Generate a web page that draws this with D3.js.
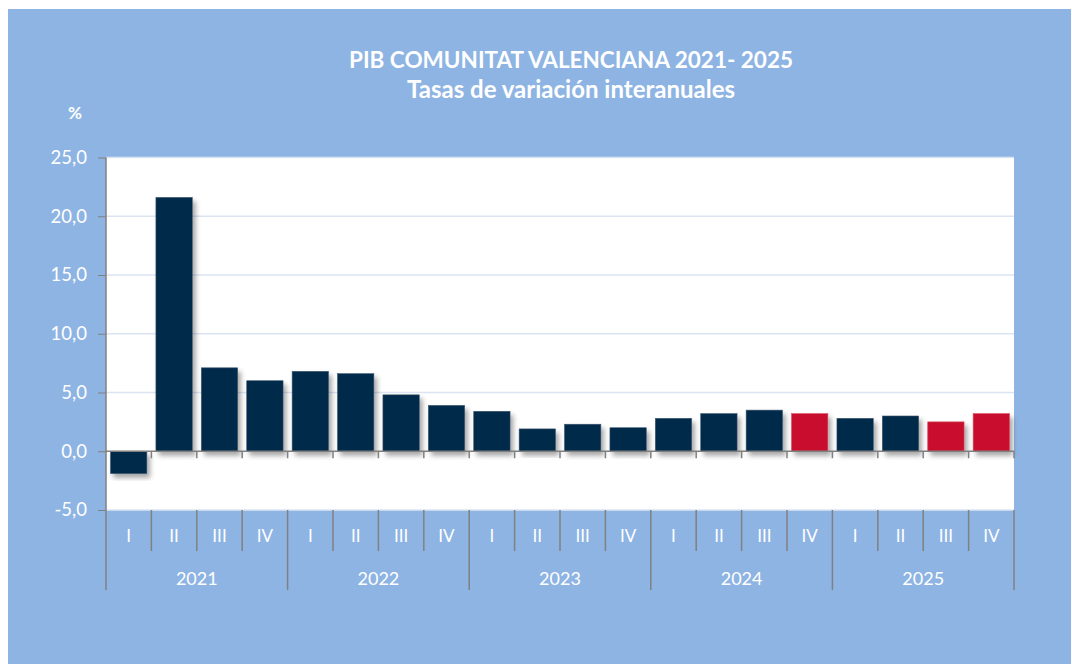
<!DOCTYPE html>
<html>
<head>
<meta charset="utf-8">
<script src="https://cdn.jsdelivr.net/npm/d3@7"></script>
<style>
  html, body { margin: 0; padding: 0; background: #fff; }
  svg { display: block; }
  text { font-family: Lato, 'Open Sans', sans-serif; fill: #fff; }
</style>
</head>
<body>
<div id="chart"></div>
<script>
// chart data
const years = ['2021', '2022', '2023', '2024', '2025'];
const quarters = ['I', 'II', 'III', 'IV'];
const values = [-1.9, 21.6, 7.1, 6.0, 6.8, 6.6, 4.8, 3.9, 3.4, 1.9, 2.3, 2.0, 2.8, 3.2, 3.5, 3.2, 2.8, 3.0, 2.5, 3.2];
const redKeys = ['2024-IV', '2025-III', '2025-IV'];
const yTicks = [-5, 0, 5, 10, 15, 20, 25];

const W = 1072, H = 664;
const margin = { top: 157.5, right: 58, bottom: 154, left: 106 };
const width = W - margin.left - margin.right;
const height = H - margin.top - margin.bottom;

const data = [];
years.forEach(y => quarters.forEach(q => data.push({ year: y, q, key: `${y}-${q}` })));
data.forEach((d, i) => { d.value = values[i]; });

const locale = d3.formatLocale({ decimal: ',', thousands: '.', grouping: [3], currency: ['', '€'], minus: '-' });
const fmt = locale.format('.1f');

const svg = d3.select('#chart').append('svg').attr('width', W).attr('height', H);

const defs = svg.append('defs');
const shadow = defs.append('filter').attr('id', 'shadow')
  .attr('x', '-20%').attr('y', '-20%').attr('width', '150%').attr('height', '150%');
shadow.append('feDropShadow')
  .attr('dx', 3).attr('dy', 4).attr('stdDeviation', 2.5)
  .attr('flood-color', '#000').attr('flood-opacity', 0.35);

// background
svg.append('rect').attr('x', 8).attr('y', 9).attr('width', W - 9).attr('height', H - 9).attr('fill', '#8eb4e3');

svg.append('text').attr('x', 571).attr('y', 68).attr('text-anchor', 'middle')
  .style('font-size', '22.5px').style('font-weight', 700)
  .text('PIB COMUNITAT VALENCIANA 2021- 2025');
svg.append('text').attr('x', 571).attr('y', 98).attr('text-anchor', 'middle')
  .style('font-size', '24px').style('font-weight', 700)
  .text('Tasas de variación interanuales');
svg.append('text').attr('x', 75).attr('y', 119).attr('text-anchor', 'middle')
  .style('font-size', '17px').style('font-weight', 700)
  .text('%');

const g = svg.append('g').attr('transform', `translate(${margin.left},${margin.top})`);

const x = d3.scaleBand().domain(data.map(d => d.key)).range([0, width]).paddingInner(0.2).paddingOuter(0.1);
const y = d3.scaleLinear().domain([-5, 25]).range([height, 0]);
const step = x.step();

g.append('rect').attr('width', width).attr('height', height).attr('fill', '#fff');

// grid
g.append('g').selectAll('line').data(yTicks.filter(t => t !== 0)).join('line')
  .attr('x1', 0).attr('x2', width)
  .attr('y1', d => y(d)).attr('y2', d => y(d))
  .attr('stroke', '#dbe5f1').attr('stroke-width', 1.5);

// y axis
const yAxis = g.append('g')
  .call(d3.axisLeft(y).tickValues(yTicks).tickSize(8).tickPadding(11).tickFormat(fmt));
yAxis.select('.domain').remove();
yAxis.selectAll('line').attr('stroke', '#808080');
yAxis.selectAll('text').style('font-size', '18.5px').attr('fill', '#fff');

// bars
g.append('g').selectAll('rect').data(data).join('rect')
  .attr('x', d => x(d.key))
  .attr('width', x.bandwidth())
  .attr('y', d => y(Math.max(0, d.value)))
  .attr('height', d => Math.abs(y(d.value) - y(0)))
  .attr('fill', d => redKeys.includes(d.key) ? '#c8102e' : '#002948')
  .attr('stroke', d => redKeys.includes(d.key) ? '#d84a5e' : '#3d5670')
  .attr('stroke-width', 0.6)
  .attr('filter', 'url(#shadow)');

// zero axis with ticks between bands
g.append('line').attr('x1', 0).attr('x2', width).attr('y1', y(0)).attr('y2', y(0))
  .attr('stroke', '#808080').attr('stroke-width', 1.5);
g.append('g').selectAll('line').data(d3.range(1, data.length + 1)).join('line')
  .attr('x1', i => i * step).attr('x2', i => i * step)
  .attr('y1', y(0)).attr('y2', y(0) + 7)
  .attr('stroke', '#808080').attr('stroke-width', 1.5);

// left axis line
g.append('line').attr('x1', 0).attr('x2', 0).attr('y1', 0).attr('y2', height + 80)
  .attr('stroke', '#808080').attr('stroke-width', 1.5);

// category axis: quarters
const cat = g.append('g').attr('transform', `translate(0,${height})`);
cat.selectAll('line.q').data(d3.range(1, data.length + 1)).join('line')
  .attr('class', 'q')
  .attr('x1', i => i * step).attr('x2', i => i * step)
  .attr('y1', 0).attr('y2', i => i % quarters.length === 0 ? 80 : 41)
  .attr('stroke', '#808080').attr('stroke-width', 1.5);
cat.selectAll('text.q').data(data).join('text')
  .attr('class', 'q')
  .attr('x', d => x(d.key) + x.bandwidth() / 2)
  .attr('y', 32)
  .attr('text-anchor', 'middle')
  .style('font-size', '17px')
  .text(d => d.q);
cat.selectAll('text.y').data(years).join('text')
  .attr('class', 'y')
  .attr('x', (d, i) => (i + 0.5) * step * quarters.length)
  .attr('y', 75)
  .attr('text-anchor', 'middle')
  .style('font-size', '18px')
  .text(d => d);
</script>
</body>
</html>
